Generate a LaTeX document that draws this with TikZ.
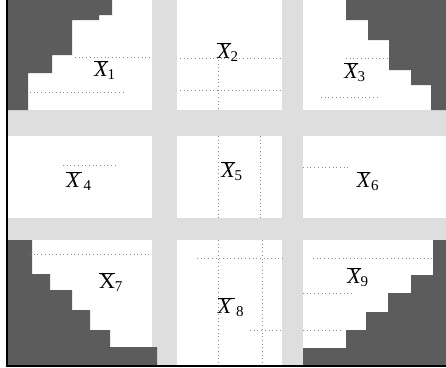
\documentclass[tikz,border=0pt]{standalone}
\usepackage{fontspec}
\setmainfont{Liberation Serif}
\newcommand\xlab[3]{$\overline{\hbox{#1X#2}}_{\hbox{\fontsize{15}{15}\selectfont #3}}$}
\tikzset{
  band/.style={fill=black!13, draw=none},
  darkstep/.style={fill=black!64, draw=none},
  faint/.style={draw=black!45, line width=0.5pt, dash pattern=on 0.7pt off 3pt},
  lbl/.style={inner sep=0pt, font=\fontsize{22}{25}\selectfont},
  frame/.style={draw=black, line width=2pt}
}
\begin{document}
\begin{tikzpicture}[x=1pt,y=-1pt]
\useasboundingbox (0,0) rectangle (446,367);
\fill[white] (0,0) rectangle (446,367);
% light bands
\path[band] (152,0) rectangle (177,365);
\path[band] (282,0) rectangle (303,365);
\path[band] (7,110) rectangle (446,136);
\path[band] (7,218) rectangle (446,240);
% dark staircases
\path[darkstep] (7,0) -- (112,0) -- (112,15) -- (99,15) -- (99,20) -- (72,20) -- (72,55) -- (52,55) -- (52,73) -- (28,73) -- (28,110) -- (7,110) -- cycle;
\path[darkstep] (346,0) -- (446,0) -- (446,110) -- (431,110) -- (431,85) -- (411,85) -- (411,70) -- (389,70) -- (389,40) -- (368,40) -- (368,20) -- (346,20) -- cycle;
\path[darkstep] (7,240) -- (32,240) -- (32,274) -- (50,274) -- (50,290) -- (72,290) -- (72,310) -- (90,310) -- (90,330) -- (110,330) -- (110,347) -- (157,347) -- (157,365) -- (7,365) -- cycle;
\path[darkstep] (433,240) -- (446,240) -- (446,365) -- (303,365) -- (303,348) -- (346,348) -- (346,330) -- (366,330) -- (366,312) -- (388,312) -- (388,293) -- (411,293) -- (411,275) -- (433,275) -- cycle;
% faint dotted guide lines
\draw[faint] (75,57) -- (150,57);
\draw[faint] (30,92) -- (125,92);
\draw[faint] (180,58) -- (280,58);
\draw[faint] (180,90) -- (280,90);
\draw[faint] (218,60) -- (218,110);
\draw[faint] (218,136) -- (218,218);
\draw[faint] (260,136) -- (260,218);
\draw[faint] (218,240) -- (218,365);
\draw[faint] (262,240) -- (262,365);
\draw[faint] (346,58) -- (388,58);
\draw[faint] (321,97) -- (380,97);
\draw[faint] (63,165) -- (117,165);
\draw[faint] (303,167) -- (350,167);
\draw[faint] (30,254) -- (150,254);
\draw[faint] (197,258) -- (283,258);
\draw[faint] (313,258) -- (432,258);
\draw[faint] (303,293) -- (353,293);
\draw[faint] (250,330) -- (283,330);
\draw[faint] (303,330) -- (343,330);
% labels
\node[lbl] (x1) at (105,70) {\xlab{\itshape}{}{1}};
\node[lbl] (x2) at (228,52) {\xlab{\itshape}{}{2}};
\node[lbl] (x3) at (355,72) {\xlab{\itshape}{}{3}};
\node[lbl] (x4) at (79,181) {\xlab{\itshape}{\kern2pt}{\kern2pt 4}};
\node[lbl] (x5) at (232,171) {\xlab{\itshape}{}{5}};
\node[lbl] (x6) at (368,181) {\xlab{\itshape}{}{\kern1pt 6}};
\node[lbl] (x7) at (111,282) {\xlab{\upshape}{}{7}};
\node[lbl] (x8) at (231,307) {\xlab{\itshape}{\kern4pt}{\kern1pt 8}};
\node[lbl] (x9) at (358,277) {\xlab{\itshape}{}{9}};
% frame
\draw[frame] (7,0) -- (7,365.5) -- (446,365.5);
\end{tikzpicture}
\end{document}
